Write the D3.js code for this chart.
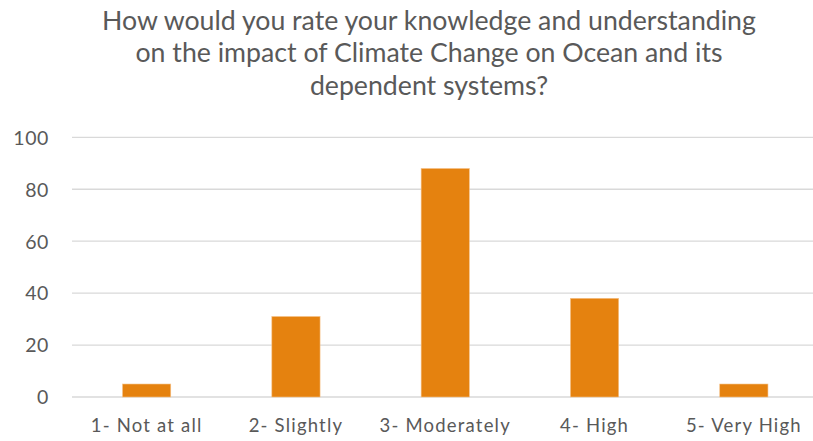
<!DOCTYPE html>
<html><head><meta charset="utf-8">
<script src="https://cdn.jsdelivr.net/npm/d3@7"></script>
<style>body{margin:0;background:#fff;} svg{display:block;}</style>
</head><body>
<svg id="c" width="813" height="441"></svg>
<script>
const categories = ["1- Not at all", "2- Slightly", "3- Moderately", "4- High", "5- Very High"];
const values = [5, 31, 88, 38, 5];
const yTicks = [0, 20, 40, 60, 80, 100];
const titleLines = ["How would you rate your knowledge and understanding", "on the impact of Climate Change on Ocean and its", "dependent systems?"];

const svg = d3.select("#c");
const font = "Lato, 'Open Sans', sans-serif";
const textColor = "#595959";

const x = d3.scaleBand().domain(categories).range([72, 818.5]).paddingInner(0.677).paddingOuter(0.3385);
const y = d3.scaleLinear().domain([0, 100]).range([397, 137.3]);

// gridlines
svg.append("g").selectAll("line").data(yTicks).join("line")
  .attr("x1", 72).attr("x2", 813)
  .attr("y1", d => y(d)).attr("y2", d => y(d))
  .attr("stroke", "#d9d9d9").attr("stroke-width", 1.3);

// y axis labels
const yAxis = d3.axisLeft(y).tickValues(yTicks).tickSize(0).tickPadding(0);
const ya = svg.append("g").attr("transform", "translate(49,0)").call(yAxis);
ya.select(".domain").remove();
ya.selectAll("text").attr("font-family", font).attr("font-size", 19.5).attr("letter-spacing", "0.6px").attr("fill", textColor).attr("dy", "0.35em");

// bars
svg.append("g").selectAll("rect").data(values).join("rect")
  .attr("x", (d, i) => x(categories[i]))
  .attr("width", x.bandwidth())
  .attr("y", d => y(d))
  .attr("height", d => y(0) - y(d))
  .attr("fill", "#e5820f")
  .attr("stroke", "#f5c28a").attr("stroke-width", 0.6);

// x axis labels
const xAxis = d3.axisBottom(x).tickSize(0).tickPadding(0);
const xa = svg.append("g").attr("transform", "translate(0,418)").call(xAxis);
xa.select(".domain").remove();
xa.selectAll("text").attr("font-family", font).attr("font-size", 18.5).attr("fill", textColor).attr("dy", "0.75em").attr("letter-spacing", "1.2px");

// title
svg.append("g").selectAll("text").data(titleLines).join("text")
  .attr("x", 429).attr("y", (d, i) => 29.5 + i * 32.5)
  .attr("text-anchor", "middle")
  .attr("font-family", font).attr("font-size", 26.7).attr("fill", textColor)
  .text(d => d);
</script>
</body></html>
